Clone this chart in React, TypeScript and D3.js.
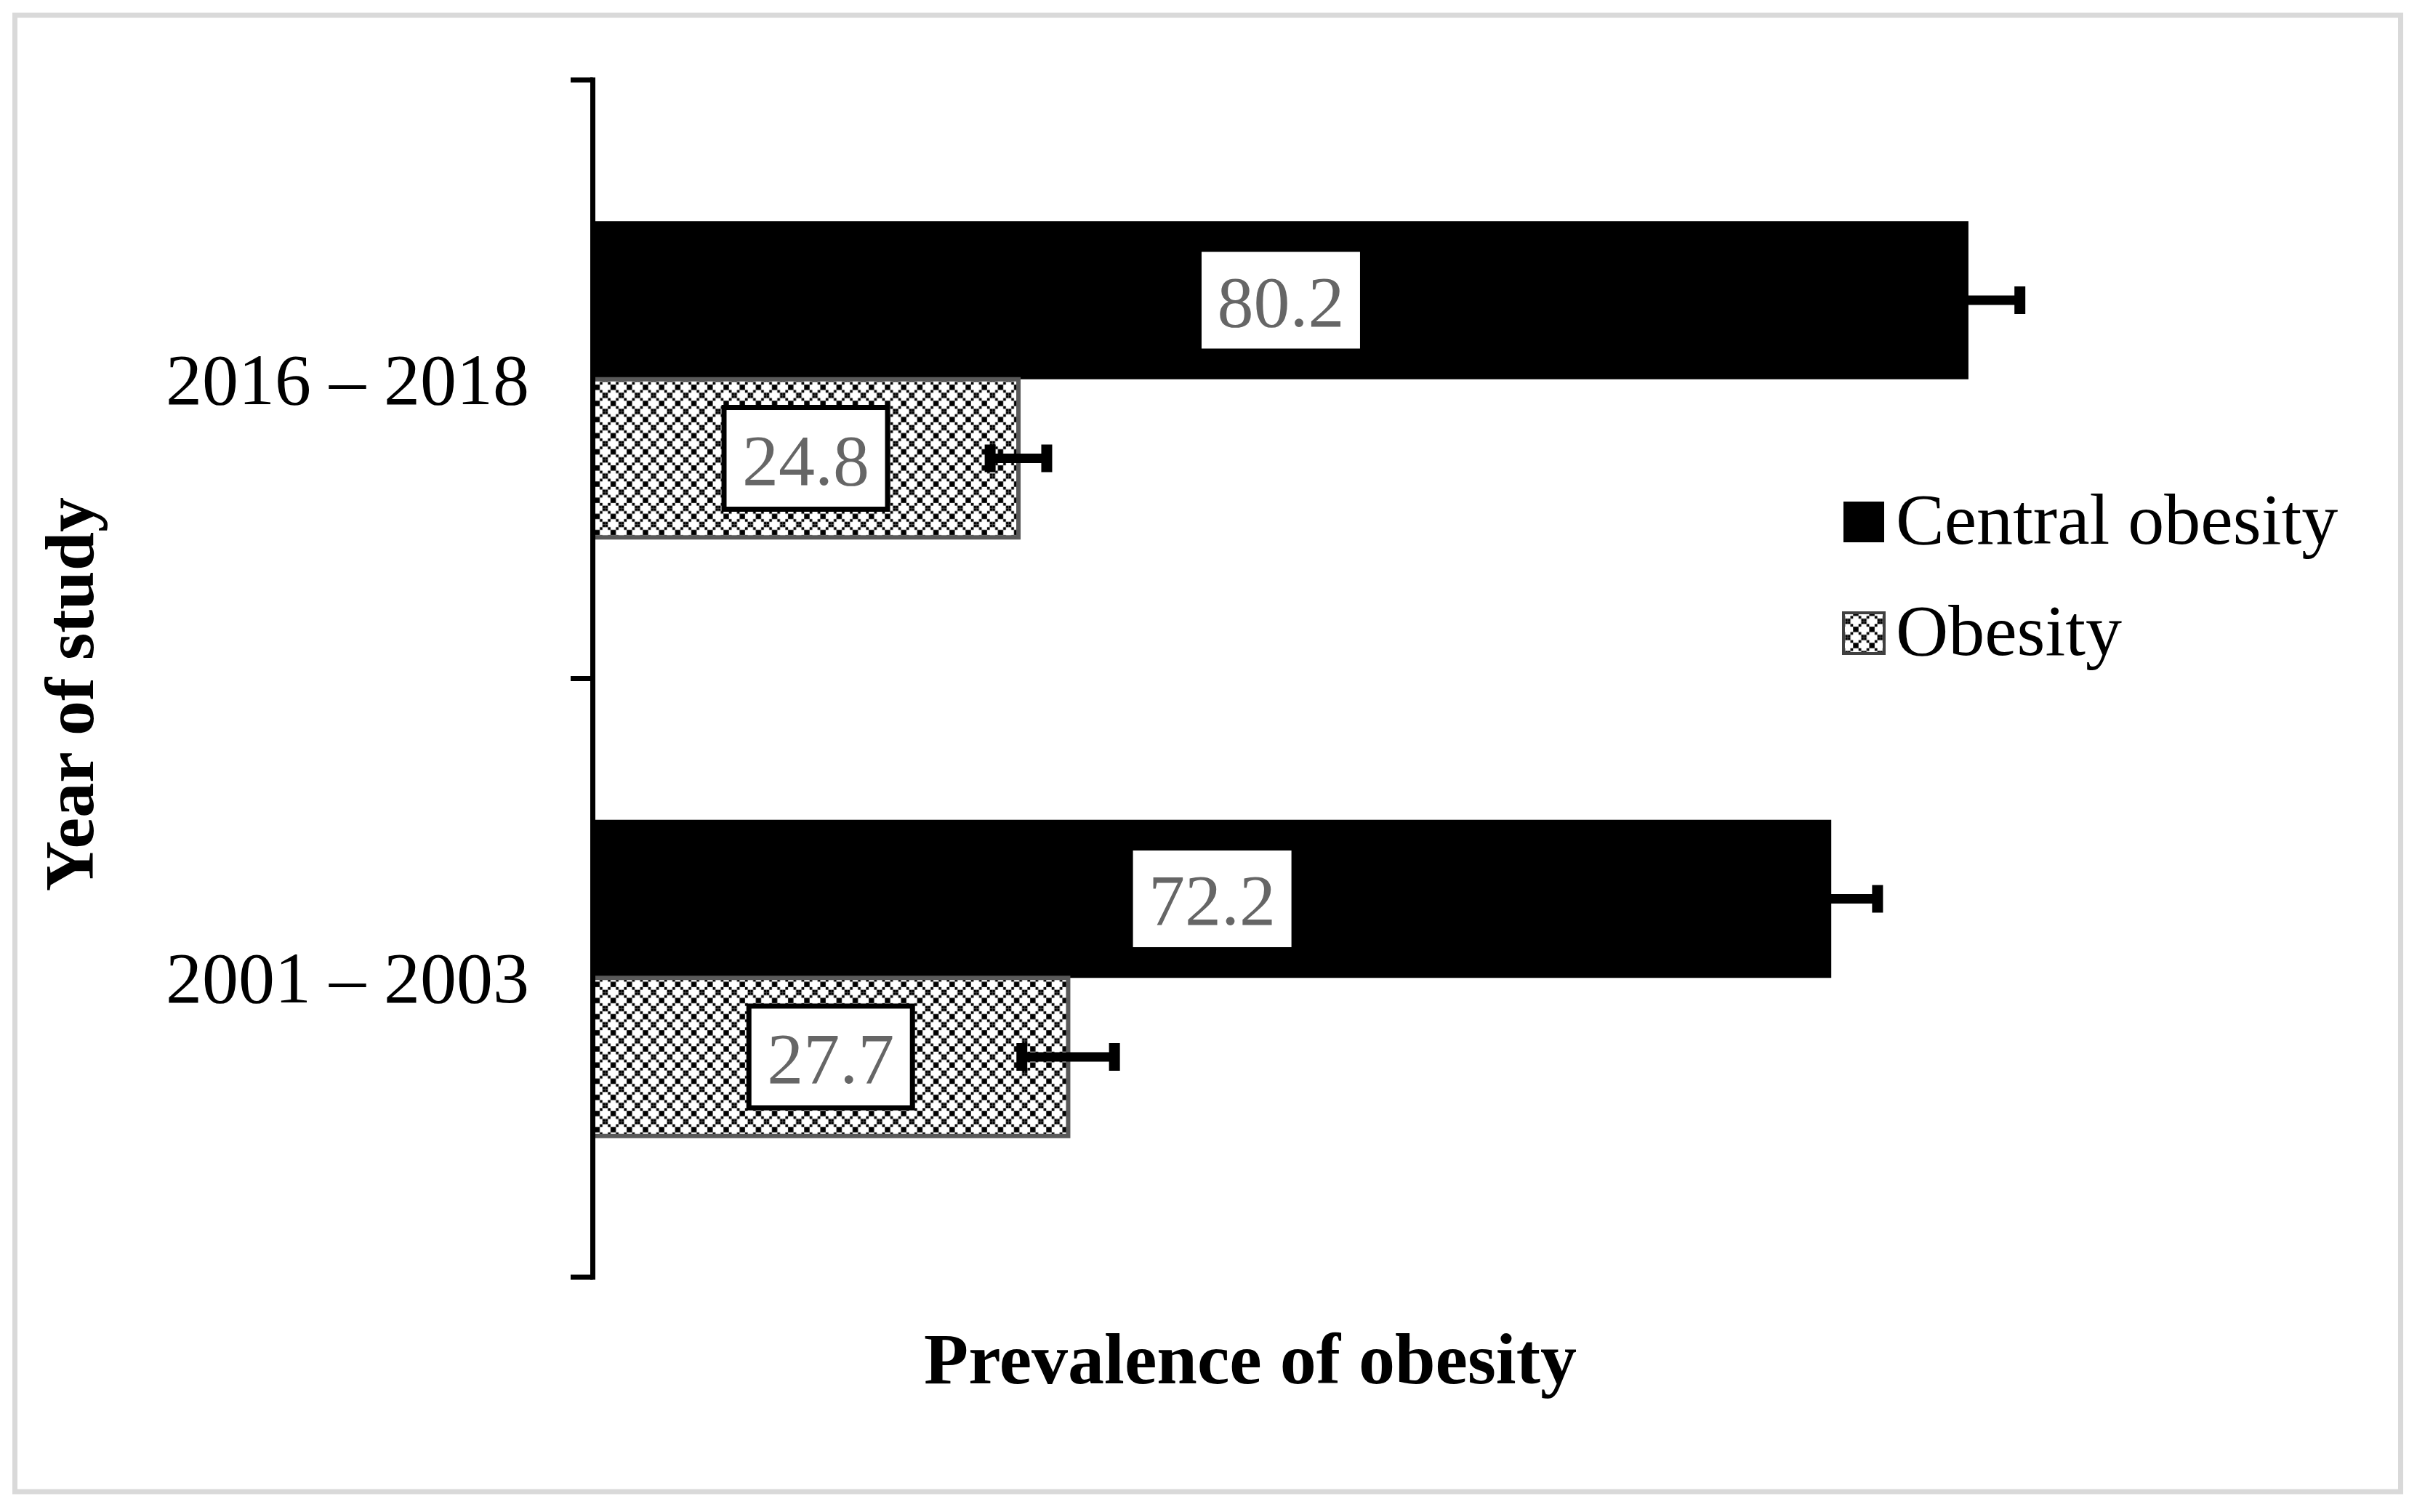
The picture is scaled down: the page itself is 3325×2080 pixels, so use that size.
import * as d3 from "d3";

const categories = ["2016 – 2018", "2001 – 2003"];
const seriesNames = ["Central obesity", "Obesity"];
const centralValues = [80.2, 72.2];
const obesityValues = [24.8, 27.7];
const centralErrors = [3.0, 2.7];
const obesityErrors = [1.65, 2.7];

const W = 3325;
const H = 2080;
const FONT = "'Liberation Serif', 'Times New Roman', serif";

// 6x6 diagonal cross cells for the "dotted diamond" fill
const cell = 3.7;
const patternCells: [number, number][] = [];
for (let i = 0; i < 6; i++) {
  patternCells.push([i, i]);
  patternCells.push([i, 5 - i]);
}

export default function App() {
  const x = d3.scaleLinear().domain([0, 100]).range([816, 3175]);
  const y = d3.scaleBand().domain(categories).range([110, 1757]).padding(0);
  const inner = d3
    .scaleBand()
    .domain(seriesNames)
    .range([0, y.bandwidth()])
    .paddingInner(0)
    .paddingOuter(0.893);

  const rows = categories.flatMap((c, i) => [
    { cat: c, s: seriesNames[0], v: centralValues[i], e: centralErrors[i] },
    { cat: c, s: seriesNames[1], v: obesityValues[i], e: obesityErrors[i] },
  ]);

  const ticks = [y.range()[0], ...categories.map((c) => (y(c) as number) + y.bandwidth())];
  const axisX = x(0) - 0.5;
  const bh = inner.bandwidth();

  return (
    <svg
      width={W}
      height={H}
      style={{ position: "absolute", left: 0, top: 0, background: "#fff" }}
    >
      <defs>
        <pattern id="dots" patternUnits="userSpaceOnUse" width={cell * 6} height={cell * 6}>
          <rect width={cell * 6} height={cell * 6} fill="#fff" />
          {patternCells.map(([cx, cy], k) => (
            <rect key={k} x={cx * cell} y={cy * cell} width={cell} height={cell} fill="#000" />
          ))}
        </pattern>
      </defs>

      <rect x={20.5} y={21} width={3282} height={2031} fill="#fff" stroke="#d9d9d9" strokeWidth={7} />

      {/* bars */}
      {rows.map((r, k) => {
        const by = (y(r.cat) as number) + (inner(r.s) as number);
        const patterned = r.s === "Obesity";
        return (
          <rect
            key={k}
            x={x(0)}
            y={by}
            width={x(r.v) - x(0)}
            height={bh}
            fill={patterned ? "url(#dots)" : "#000"}
            stroke={patterned ? "#595959" : "none"}
            strokeWidth={patterned ? 6 : 0}
          />
        );
      })}

      {/* error bars */}
      {rows.map((r, k) => {
        const cy = (y(r.cat) as number) + (inner(r.s) as number) + bh / 2;
        const x1 = x(r.v - r.e);
        const x2 = x(r.v + r.e);
        return (
          <g key={k}>
            <line x1={x1} x2={x2} y1={cy} y2={cy} stroke="#000" strokeWidth={13} />
            <line x1={x1} x2={x1} y1={cy - 19} y2={cy + 19} stroke="#000" strokeWidth={15} />
            <line x1={x2} x2={x2} y1={cy - 19} y2={cy + 19} stroke="#000" strokeWidth={15} />
          </g>
        );
      })}

      {/* data labels */}
      {rows.map((r, k) => {
        const cy = (y(r.cat) as number) + (inner(r.s) as number) + bh / 2;
        const cx = (x(0) + x(r.v)) / 2;
        return (
          <g key={k}>
            <rect x={cx - 112.5} y={cy - 70} width={225} height={140} fill="#fff" stroke="#000" strokeWidth={7} />
            <text
              x={cx}
              y={cy + 36}
              textAnchor="middle"
              fontFamily={FONT}
              fontSize={100}
              fill="#666666"
            >
              {r.v.toFixed(1)}
            </text>
          </g>
        );
      })}

      {/* y axis */}
      <line x1={axisX} x2={axisX} y1={ticks[0] - 3.5} y2={ticks[ticks.length - 1] + 3.5} stroke="#000" strokeWidth={7} />
      {ticks.map((t, k) => (
        <line key={k} x1={785} x2={axisX} y1={t} y2={t} stroke="#000" strokeWidth={7} />
      ))}

      {categories.map((c) => (
        <text
          key={c}
          x={728}
          y={(y(c) as number) + y.bandwidth() / 2 + 34}
          textAnchor="end"
          fontFamily={FONT}
          fontSize={100}
          fill="#000"
        >
          {c}
        </text>
      ))}

      {/* axis titles */}
      <text
        transform={`translate(128, 955) rotate(-90)`}
        textAnchor="middle"
        fontFamily={FONT}
        fontWeight="bold"
        fontSize={96}
        fill="#000"
      >
        Year of study
      </text>
      <text x={1720} y={1903} textAnchor="middle" fontFamily={FONT} fontWeight="bold" fontSize={100} fill="#000">
        Prevalence of obesity
      </text>

      {/* legend */}
      {seriesNames.map((s, i) => {
        const ly = 690 + i * 153;
        return (
          <g key={s}>
            <rect
              x={2536}
              y={ly}
              width={56}
              height={56}
              fill={i === 0 ? "#000" : "url(#dots)"}
              stroke={i === 0 ? "none" : "#404040"}
              strokeWidth={i === 0 ? 0 : 4}
            />
            <text x={2608} y={ly + 58} fontFamily={FONT} fontSize={100} fill="#000">
              {s}
            </text>
          </g>
        );
      })}
    </svg>
  );
}
